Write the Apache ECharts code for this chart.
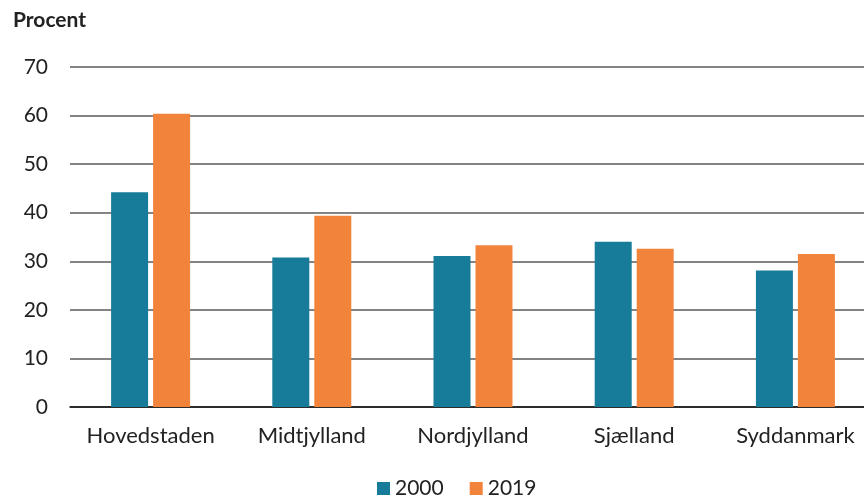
<!DOCTYPE html>
<html>
<head>
<meta charset="utf-8">
<script src="https://cdn.jsdelivr.net/npm/echarts@6/dist/echarts.min.js"></script>
<style>
  html, body { margin: 0; padding: 0; background: #fff; }
  #chart { width: 864px; height: 497px; }
</style>
</head>
<body>
<div id="chart"></div>
<script>
// regioner og andele (procent)
const regions = ['Hovedstaden', 'Midtjylland', 'Nordjylland', 'Sjælland', 'Syddanmark'];
const values2000 = [44.2, 30.8, 31.1, 34.0, 28.1];
const values2019 = [60.4, 39.4, 33.3, 32.6, 31.5];

const chart = echarts.init(document.getElementById('chart'));

const option = {
  animation: false,
  textStyle: { fontFamily: 'Lato, "Open Sans", sans-serif', color: '#222' },
  // plot runs a bit past the right edge, like in the original
  grid: { left: 70, width: 806, top: 67, bottom: 90, outerBoundsMode: 'none' },
  legend: {
    data: ['2000', '2019'],
    top: 473,
    left: 372,
    itemWidth: 13,
    itemHeight: 13,
    itemGap: 26,
    icon: 'rect',
    textStyle: { fontSize: 21, color: '#222' },
  },
  xAxis: {
    type: 'category',
    data: regions,
    axisLine: { lineStyle: { color: '#111', width: 1.5 } },
    axisTick: { show: false },
    axisLabel: { fontSize: 22, color: '#222', margin: 18, interval: 0 },
  },
  yAxis: {
    type: 'value',
    min: 0,
    max: 70,
    interval: 10,
    name: 'Procent',
    nameLocation: 'end',
    nameGap: 36,
    nameTextStyle: { fontSize: 21, fontWeight: 'bold', color: '#222', align: 'left', padding: [0, 0, 0, -57] },
    axisLine: { show: false },
    axisTick: { show: false },
    axisLabel: { fontSize: 21, color: '#222', margin: 22 },
    splitLine: { lineStyle: { color: '#5a5a5a', width: 1.5 } },
  },
  series: [
    {
      name: '2000',
      type: 'bar',
      data: values2000,
      barWidth: 37,
      barGap: '13.5%',
      itemStyle: { color: '#167c99' },
    },
    {
      name: '2019',
      type: 'bar',
      data: values2019,
      barWidth: 37,
      itemStyle: { color: '#f2833b' },
    },
  ],
};

chart.setOption(option);
</script>
</body>
</html>
